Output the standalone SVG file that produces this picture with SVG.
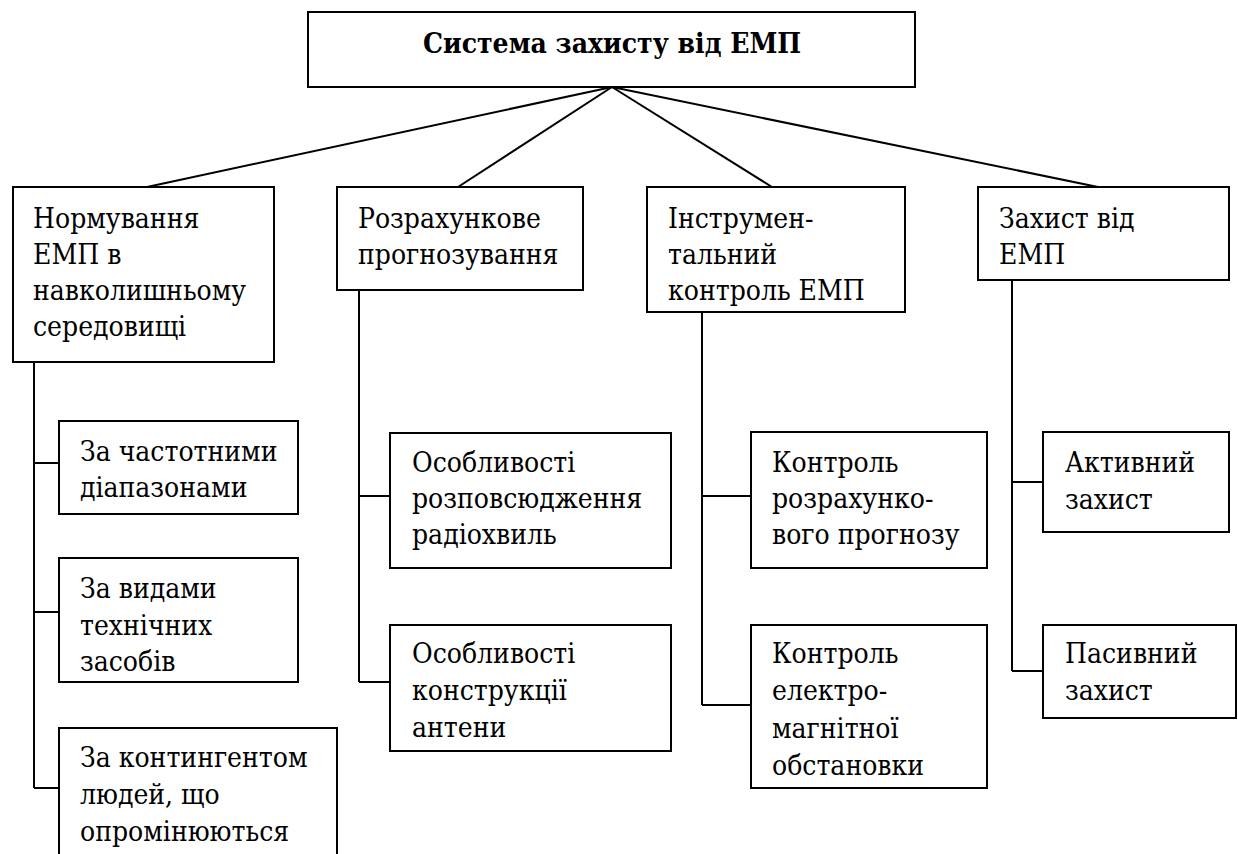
<svg xmlns="http://www.w3.org/2000/svg" width="1238" height="854" viewBox="0 0 1238 854" font-family="'DejaVu Serif Condensed', 'DejaVu Serif', serif">
<style>
rect{fill:#fff;stroke:#000;stroke-width:2}
line,path{stroke:#000;stroke-width:2;fill:none}
text{font-size:28px;fill:#000}
.t{font-weight:bold;font-size:28px}
</style>
<rect x="0" y="0" width="1238" height="854" style="stroke:none"/>
<g id="connectors">
<line x1="612" y1="87" x2="147" y2="187"/>
<line x1="612" y1="87" x2="458" y2="187"/>
<line x1="612" y1="87" x2="772" y2="187"/>
<line x1="612" y1="87" x2="1098" y2="187"/>
<path d="M34 362V788M34 463H59M34 612H59M34 788H59"/>
<path d="M359 290V682M359 496H390M359 682H390"/>
<path d="M702 312V705M702 496H751M702 705H751"/>
<path d="M1012 280V671M1012 482H1043M1012 671H1043"/>
</g>
<g id="root">
<rect x="308" y="12" width="607" height="75"/>
<text class="t" x="612" y="53" text-anchor="middle">Система захисту від ЕМП</text>
</g>
<g id="n1">
<rect x="13" y="187" width="261" height="175"/>
<text x="33" y="228">Нормування</text>
<text x="33" y="264">ЕМП в</text>
<text x="33" y="300">навколишньому</text>
<text x="33" y="336">середовищі</text>
</g>
<g id="n2">
<rect x="337" y="187" width="246" height="103"/>
<text x="358" y="228">Розрахункове</text>
<text x="358" y="264">прогнозування</text>
</g>
<g id="n3">
<rect x="647" y="187" width="258" height="125"/>
<text x="668" y="228">Інструмен-</text>
<text x="668" y="264">тальний</text>
<text x="668" y="300">контроль ЕМП</text>
</g>
<g id="n4">
<rect x="978" y="187" width="251" height="93"/>
<text x="999" y="228">Захист від</text>
<text x="999" y="264">ЕМП</text>
</g>
<g id="c1">
<rect x="59" y="421" width="239" height="93"/>
<text x="80" y="461">За частотними</text>
<text x="80" y="497">діапазонами</text>
</g>
<g id="c2">
<rect x="59" y="558" width="239" height="124"/>
<text x="80" y="598">За видами</text>
<text x="80" y="635">технічних</text>
<text x="80" y="671">засобів</text>
</g>
<g id="c3">
<rect x="59" y="728" width="278" height="140"/>
<text x="80" y="767">За контингентом</text>
<text x="80" y="804">людей, що</text>
<text x="80" y="841">опромінюються</text>
</g>
<g id="c4">
<rect x="390" y="433" width="281" height="135"/>
<text x="412" y="472">Особливості</text>
<text x="412" y="508">розповсюдження</text>
<text x="412" y="544">радіохвиль</text>
</g>
<g id="c5">
<rect x="390" y="625" width="281" height="126"/>
<text x="412" y="663">Особливості</text>
<text x="412" y="700">конструкції</text>
<text x="412" y="737">антени</text>
</g>
<g id="c6">
<rect x="751" y="432" width="236" height="136"/>
<text x="772" y="472">Контроль</text>
<text x="772" y="508">розрахунко-</text>
<text x="772" y="544">вого прогнозу</text>
</g>
<g id="c7">
<rect x="751" y="625" width="236" height="163"/>
<text x="772" y="663">Контроль</text>
<text x="772" y="700">електро-</text>
<text x="772" y="738">магнітної</text>
<text x="772" y="775">обстановки</text>
</g>
<g id="c8">
<rect x="1043" y="432" width="186" height="100"/>
<text x="1065" y="472">Активний</text>
<text x="1065" y="509">захист</text>
</g>
<g id="c9">
<rect x="1043" y="625" width="193" height="93"/>
<text x="1065" y="663">Пасивний</text>
<text x="1065" y="700">захист</text>
</g>
</svg>
